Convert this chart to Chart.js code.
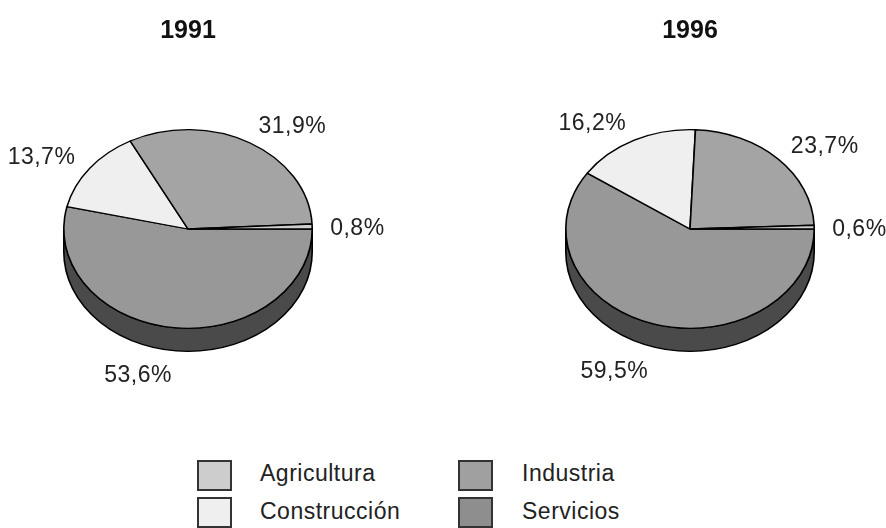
<!DOCTYPE html>
<html>
<head>
<meta charset="utf-8">
<script src="https://cdn.jsdelivr.net/npm/chart.js@4.4.1/dist/chart.umd.min.js"></script>
<style>
  html, body { margin: 0; padding: 0; background: #fff; }
  #wrap { position: relative; width: 886px; height: 528px; overflow: hidden; font-family: "Liberation Sans", Arial, sans-serif; }
  .pie { position: absolute; top: 0; }
  .lg-box { position: absolute; width: 31px; height: 27px; border: 2px solid #333; }
  .lg-txt { position: absolute; font-size: 23px; color: #222; line-height: 26px; letter-spacing: 0.5px; }
</style>
</head>
<body>
<div id="wrap">
  <canvas id="pie1991" class="pie" width="443" height="440" style="left:0"></canvas>
  <canvas id="pie1996" class="pie" width="443" height="440" style="left:502px"></canvas>
</div>
<script>
// sector shares (%) per year, legend order
const categories = ["Agricultura", "Industria", "Construcción", "Servicios"];
const values1991 = [0.8, 31.9, 13.7, 53.6];
const values1996 = [0.6, 23.7, 16.2, 59.5];
const years = ["1991", "1996"];
const topColors = ["#cdcdcd", "#a4a4a4", "#efefef", "#989898"];
const sideColors = ["#6a6a6a", "#555555", "#7a7a7a", "#4a4a4a"];
const legendColors = ["#cdcdcd", "#a0a0a0", "#efefef", "#8e8e8e"];

const TILT = 0.8;   // vertical squash of the pie face
const DEPTH = 23;   // thickness of the pie edge, px

function fmt(v) { return v.toFixed(1).replace(".", ",") + "%"; }

// squashes the pie into an ellipse, paints the edge underneath and the % labels
const tiltPlugin = {
  id: "tilt",
  beforeDatasetsDraw(chart) {
    const ctx = chart.ctx;
    const ds = chart.data.datasets[0];
    const arcs = chart.getDatasetMeta(0).data;
    const { x: cx, y: cy } = arcs[0].getProps(["x", "y"]);
    ctx.save();
    ctx.translate(cx, cy);
    ctx.scale(1, TILT);
    ctx.translate(-cx, -cy);
    const d = DEPTH / TILT;
    arcs.forEach((arc, i) => {
      const p = arc.getProps(["startAngle", "endAngle", "outerRadius"]);
      const a = Math.max(p.startAngle, 0), b = Math.min(p.endAngle, Math.PI);
      if (b <= a) return;
      const r = p.outerRadius;
      ctx.beginPath();
      ctx.arc(cx, cy, r, a, b);
      ctx.lineTo(cx + r * Math.cos(b), cy + d + r * Math.sin(b));
      ctx.arc(cx, cy + d, r, b, a, true);
      ctx.closePath();
      ctx.fillStyle = ds.sideColor[i];
      ctx.fill();
      ctx.lineWidth = 1.6;
      ctx.strokeStyle = "#000";
      ctx.stroke();
    });
  },
  afterDatasetsDraw(chart) {
    const ctx = chart.ctx;
    ctx.restore();
    const ds = chart.data.datasets[0];
    const arcs = chart.getDatasetMeta(0).data;
    ctx.save();
    ctx.font = '23px "Liberation Sans", Arial, sans-serif';
    ctx.letterSpacing = "0.5px";
    ctx.fillStyle = "#222";
    ctx.textBaseline = "middle";
    arcs.forEach((arc, i) => {
      const p = arc.getProps(["x", "y", "startAngle", "endAngle", "outerRadius"]);
      const m = (p.startAngle + p.endAngle) / 2;
      const R = p.outerRadius + 18;
      const c = Math.cos(m), s = Math.sin(m);
      const x = p.x + R * c;
      const y = p.y + TILT * R * s + (s > 0 ? DEPTH : 0) + s * 8 + 3;
      ctx.textAlign = c >= 0 ? "left" : "right";
      ctx.fillText(fmt(ds.data[i]), x, y);
    });
    ctx.restore();
  }
};

function pie(id, title, values, padLeft, padRight) {
  // reversed so the slices run counter-clockwise from 3 o'clock
  return new Chart(document.getElementById(id), {
    type: "pie",
    data: {
      labels: categories.slice().reverse(),
      datasets: [{
        data: values.slice().reverse(),
        backgroundColor: topColors.slice().reverse(),
        sideColor: sideColors.slice().reverse(),
        borderColor: "#000",
        borderWidth: 1.6,
      }],
    },
    options: {
      responsive: false,
      animation: false,
      rotation: 90,
      layout: { padding: { left: padLeft, right: padRight, top: 0, bottom: 86 } },
      plugins: {
        legend: { display: false },
        tooltip: { enabled: false },
        title: {
          display: true, text: title, color: "#111",
          font: { family: '"Liberation Sans", Arial, sans-serif', size: 25, weight: "bold" },
          padding: { top: 16, bottom: 58 },
        },
      },
    },
    plugins: [tiltPlugin],
  });
}

pie("pie1991", years[0], values1991, 63, 130);
pie("pie1996", years[1], values1996, 63, 130);

// legend, two columns
const wrap = document.getElementById("wrap");
categories.forEach((name, i) => {
  const col = i % 2, row = Math.floor(i / 2);
  const box = document.createElement("div");
  box.className = "lg-box";
  box.style.left = (197 + col * 261) + "px";
  box.style.top = (460 + row * 37) + "px";
  box.style.background = legendColors[i];
  wrap.appendChild(box);
  const txt = document.createElement("div");
  txt.className = "lg-txt";
  txt.textContent = name;
  txt.style.left = (260 + col * 262) + "px";
  txt.style.top = (460 + row * 38) + "px";
  wrap.appendChild(txt);
});
</script>
</body>
</html>
